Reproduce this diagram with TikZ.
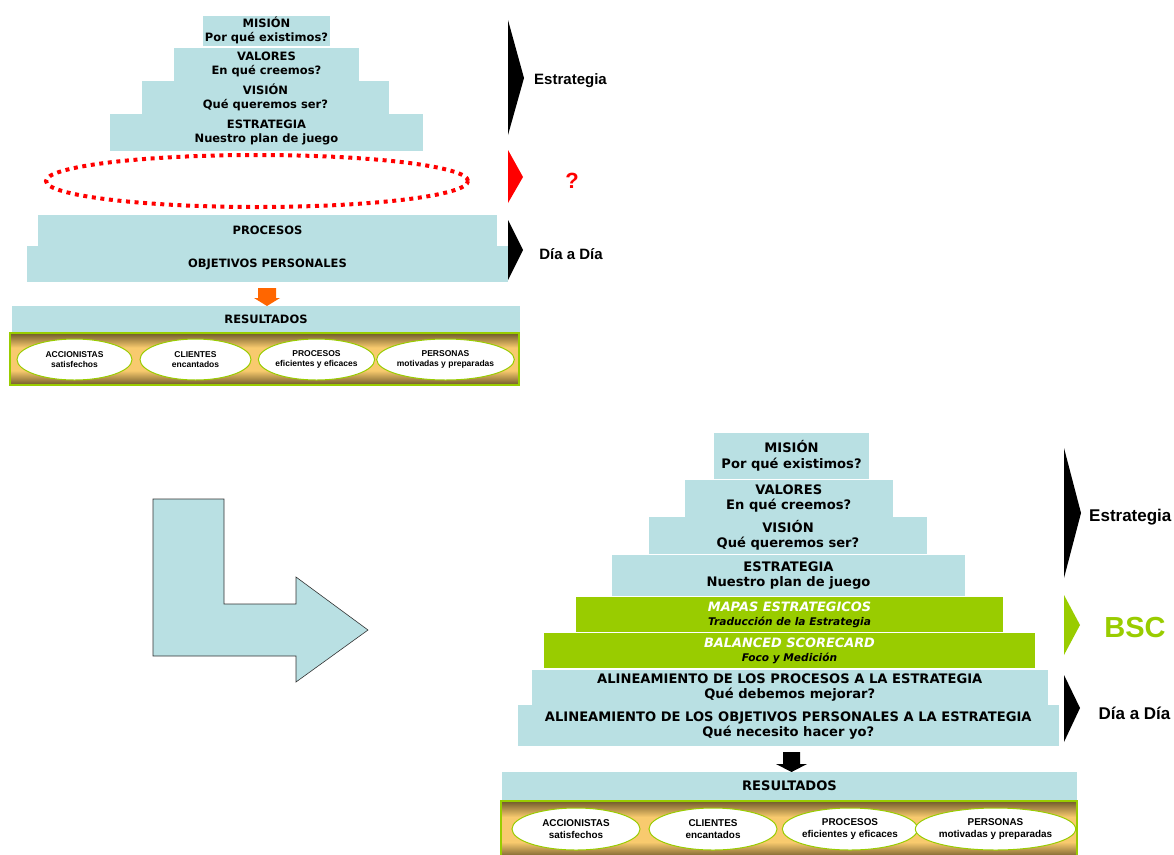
\documentclass[tikz,border=0pt]{standalone}
\usepackage{fontspec}
\usetikzlibrary{shapes.geometric}
\newfontfamily\tierfont{DejaVu Sans}
\newfontfamily\labelfont{Liberation Sans}
\definecolor{tiercyan}{RGB}{185,224,227}
\definecolor{bscgreen}{RGB}{153,204,0}
\definecolor{bandDark}{RGB}{112,90,42}
\definecolor{bandLight}{RGB}{248,202,110}
\definecolor{flowOrange}{RGB}{255,102,0}
% the filled area spans 25bp..75bp of the shading
\pgfdeclareverticalshading{goldband}{100bp}{color(0bp)=(bandDark); color(25bp)=(bandDark);
  color(39bp)=(bandLight); color(61bp)=(bandLight); color(75bp)=(bandDark); color(100bp)=(bandDark)}
\begin{document}
\begin{tikzpicture}[x=1pt,y=-1pt,
  tierS/.style={fill=tiercyan, inner sep=0pt, align=center, text=black,
    font=\tierfont\bfseries\fontsize{11.5}{14}\selectfont},
  tierL/.style={fill=tiercyan, inner sep=0pt, align=center, text=black,
    font=\tierfont\bfseries\fontsize{13.1}{15.5}\selectfont},
  bscbox/.style={fill=bscgreen, inner sep=0pt, align=center, text=black,
    font=\tierfont\bfseries\itshape\fontsize{10.6}{14}\selectfont},
  goal/.style={ellipse, fill=white, draw=bscgreen, line width=1pt, inner sep=0pt,
    align=center, text=black},
  goalS/.style={goal, font=\labelfont\bfseries\fontsize{8.5}{10.5}\selectfont},
  goalL/.style={goal, font=\labelfont\bfseries\fontsize{9.9}{12.5}\selectfont},
  side/.style={inner sep=0pt, font=\labelfont\bfseries},
  band/.style={shading=goldband},
  bandedge/.style={draw=bscgreen, line width=1.6pt}
]
\useasboundingbox (0,0) rectangle (1174,854);

% ---------------- upper pyramid ----------------
\node[tierS, minimum width=127, minimum height=30] (tMision) at (266.5,30.5) {MISIÓN\\Por qué existimos?};
\node[tierS, minimum width=185, minimum height=33] (tValores) at (266.5,64.5) {VALORES\\En qué creemos?};
\node[tierS, minimum width=247, minimum height=33] (tVision) at (265.5,97.5) {VISIÓN\\Qué queremos ser?};
\node[tierS, minimum width=313, minimum height=37] (tEstr) at (266.5,132.5) {ESTRATEGIA\\Nuestro plan de juego};
\node[ellipse, draw=red, line width=4pt, dash pattern=on 4pt off 4.6pt,
      minimum width=422, minimum height=52, inner sep=0pt] (tGap) at (257,181) {};
\node[tierS, minimum width=459, minimum height=31] (tProc) at (267.5,230.5) {PROCESOS};
\node[tierS, minimum width=481, minimum height=36] (tObj) at (267.5,264) {OBJETIVOS PERSONALES};

% flow arrow to results
\fill[flowOrange] (258,288) -- (276,288) -- (276,298) -- (280,298) -- (267,306)
  -- (254,298) -- (258,298) -- cycle;

\node[tierS, minimum width=508, minimum height=26] (tRes) at (266,319) {RESULTADOS};
\shade[band] (10,333) rectangle (519,385);
\draw[bandedge] (10,333) rectangle (519,385);
\node[goalS, minimum width=115, minimum height=41] (tG1) at (74.5,359.5) {ACCIONISTAS\\satisfechos};
\node[goalS, minimum width=111, minimum height=41] (tG2) at (195.5,359.5) {CLIENTES\\encantados};
\node[goalS, minimum width=113, minimum height=41] (tG3) at (316.5,359.5) {PROCESOS\\eficientes y eficaces};
\node[goalS, minimum width=133, minimum height=41] (tG4) at (445.5,359.5) {PERSONAS\\motivadas y preparadas};

% side markers
\fill[black] (508,20) -- (524,78) -- (508,135) -- cycle;
\fill[red] (508,150) -- (523,177) -- (508,203) -- cycle;
\fill[black] (508,220) -- (523,250) -- (508,280) -- cycle;
\node[side, font=\labelfont\bfseries\fontsize{15}{18}\selectfont] (tLblEstr) at (570.5,81) {Estrategia};
\node[side, text=red, font=\labelfont\bfseries\fontsize{22}{26}\selectfont] (tLblQ) at (572,181) {?};
\node[side, font=\labelfont\bfseries\fontsize{15}{18}\selectfont] (tLblDia) at (571,254) {Día a Día};

% ---------------- turn arrow ----------------
\filldraw[fill=tiercyan, draw=black!80, line width=0.6pt]
  (153,499) -- (224,499) -- (224,604) -- (296,604) -- (296,577) -- (368,630)
  -- (296,682) -- (296,656) -- (153,656) -- cycle;

% ---------------- lower pyramid ----------------
\node[tierL, minimum width=155, minimum height=46] (bMision) at (791.5,456) {MISIÓN\\Por qué existimos?};
\node[tierL, minimum width=208.5, minimum height=37] (bValores) at (788.75,498.5) {VALORES\\En qué creemos?};
\node[tierL, minimum width=278, minimum height=37] (bVision) at (788,535.5) {VISIÓN\\Qué queremos ser?};
\node[tierL, minimum width=353, minimum height=41] (bEstr) at (788.5,575.5) {ESTRATEGIA\\Nuestro plan de juego};
\node[bscbox, minimum width=427, minimum height=35] (bMapas) at (789.5,614.5)
  {{\color{white}\fontsize{12.9}{14}\selectfont MAPAS ESTRATEGICOS}\\Traducción de la Estrategia};
\node[bscbox, minimum width=491, minimum height=35] (bBsc) at (789.5,650.5)
  {{\color{white}\fontsize{12.9}{14}\selectfont BALANCED SCORECARD}\\Foco y Medición};
\node[tierL, minimum width=516.5, minimum height=35] (bProc) at (789.75,687.5)
  {ALINEAMIENTO DE LOS PROCESOS A LA ESTRATEGIA\\Qué debemos mejorar?};
\node[tierL, minimum width=541.5, minimum height=41] (bObj) at (788.25,725.5)
  {ALINEAMIENTO DE LOS OBJETIVOS PERSONALES A LA ESTRATEGIA\\Qué necesito hacer yo?};

% flow arrow to results
\fill[black] (783,752) -- (800,752) -- (800,764) -- (807,764) -- (791.5,772)
  -- (776,764) -- (783,764) -- cycle;

\node[tierL, minimum width=575, minimum height=28] (bRes) at (789.5,786) {RESULTADOS};
\shade[band] (501,801) rectangle (1077,858);
\draw[bandedge] (501,801) rectangle (1077,858);
\node[goalL, minimum width=128, minimum height=42] (bG1) at (576,829) {ACCIONISTAS\\satisfechos};
\node[goalL, minimum width=128, minimum height=42] (bG2) at (713,829) {CLIENTES\\encantados};
\node[goalL, minimum width=128, minimum height=42] (bG3) at (850,829) {PROCESOS\\eficientes y eficaces};
\node[goalL, minimum width=149, minimum height=42] (bG4) at (995.5,829) {PERSONAS\\motivadas y preparadas};

% side markers
\fill[black] (1064,448) -- (1081,513) -- (1064,578) -- cycle;
\fill[bscgreen] (1064,595) -- (1080,625) -- (1064,655) -- cycle;
\fill[black] (1064,675) -- (1080,708) -- (1064,742) -- cycle;
\node[side, anchor=west, font=\labelfont\bfseries\fontsize{17}{20}\selectfont] (bLblEstr) at (1089,517) {Estrategia};
\node[side, text=bscgreen, font=\labelfont\bfseries\fontsize{29}{34}\selectfont] (bLblBsc) at (1135,628) {BSC};
\node[side, font=\labelfont\bfseries\fontsize{17}{20}\selectfont] (bLblDia) at (1134.5,713) {Día a Día};
\end{tikzpicture}
\end{document}
